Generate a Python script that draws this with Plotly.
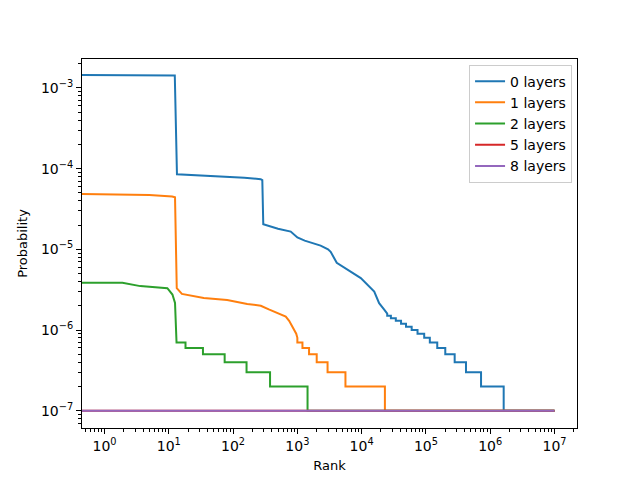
import plotly.graph_objects as go

# rank / probability breakpoints
rank_0 = [0.4, 5, 12.4, 13.4, 50, 150, 269, 285, 295, 500, 789, 1000, 1300, 2300, 3000, 3300, 4100, 6000, 9700,
          15700, 18700, 22300, 25000, 25000, 28500, 28500, 34000, 34000, 41000, 41000, 49000, 49000,
          60000, 60000, 74000, 74000, 94000, 94000, 115000, 115000, 150000, 150000, 200000, 200000,
          280000, 280000, 420000, 420000, 720000, 720000, 1620000, 1620000, 1e7]
prob_0 = [1.45e-3, 1.44e-3, 1.42e-3, 8.5e-5, 8.1e-5, 7.7e-5, 7.4e-5, 7.2e-5, 2.05e-5, 1.8e-5, 1.66e-5, 1.4e-5,
          1.28e-5, 1.11e-5, 1.0e-5, 9.3e-6, 6.8e-6, 5.6e-6, 4.4e-6,
          3.0e-6, 2.15e-6, 1.8e-6, 1.6e-6, 1.5e-6, 1.5e-6, 1.4e-6, 1.4e-6, 1.3e-6, 1.3e-6, 1.2e-6, 1.2e-6,
          1.1e-6, 1.1e-6, 1.0e-6, 1.0e-6, 9e-7, 9e-7, 8e-7, 8e-7, 7e-7, 7e-7, 6e-7, 6e-7,
          5e-7, 5e-7, 4e-7, 4e-7, 3e-7, 3e-7, 2e-7, 2e-7, 1e-7, 1e-7]

rank_1 = [0.4, 2, 5, 11.3, 12.5, 13.3, 16, 35, 81, 166, 270, 360, 520, 660, 745, 835, 900, 960, 1000,
          1000, 1200, 1200, 1520, 1520, 2000, 2000, 2950, 2950, 5600, 5600, 23000, 23000, 1e7]
prob_1 = [4.86e-5, 4.8e-5, 4.7e-5, 4.5e-5, 4.4e-5, 3.3e-6, 2.8e-6, 2.5e-6, 2.35e-6, 2.1e-6, 2.0e-6, 1.8e-6,
          1.6e-6, 1.47e-6, 1.3e-6, 1.1e-6, 1.0e-6, 9e-7, 8e-7,
          7e-7, 7e-7, 6e-7, 6e-7, 5e-7, 5e-7, 4e-7, 4e-7, 3e-7, 3e-7, 2e-7, 2e-7, 1e-7, 1e-7]

rank_2 = [0.4, 1.9, 3.6, 6.6, 9.5, 11.4, 12.5, 13.2, 18.2, 18.2, 34, 34, 74, 74, 162, 162, 376, 376,
          1440, 1440, 1e7]
prob_2 = [3.86e-6, 3.86e-6, 3.5e-6, 3.4e-6, 3.3e-6, 2.75e-6, 2.16e-6, 7e-7, 7e-7, 6e-7, 6e-7, 5e-7, 5e-7,
          4e-7, 4e-7, 3e-7, 3e-7, 2e-7, 2e-7, 1e-7, 1e-7]

rank_5 = [0.4, 1e7]
prob_5 = [1e-7, 1e-7]
rank_8 = [0.4, 1e7]
prob_8 = [1e-7, 1e-7]

x_ticks = [1, 10, 100, 1e3, 1e4, 1e5, 1e6, 1e7]
x_labels = ["10<sup>%d</sup>" % i for i in range(8)]
y_ticks = [1e-7, 1e-6, 1e-5, 1e-4, 1e-3]
y_labels = ["10<sup>\u2212%d</sup>" % i for i in range(7, 2, -1)]

series = [
    ("0 layers", rank_0, prob_0, "#1f77b4"),
    ("1 layers", rank_1, prob_1, "#ff7f0e"),
    ("2 layers", rank_2, prob_2, "#2ca02c"),
    ("5 layers", rank_5, prob_5, "#d62728"),
    ("8 layers", rank_8, prob_8, "#9467bd"),
]

fig = go.Figure()
for name, xs, ys, col in series:
    fig.add_trace(go.Scatter(x=xs, y=ys, mode="lines", name=name,
                             line=dict(color=col, width=2)))

axis_style = dict(type="log", showgrid=False, zeroline=False, showline=True, linecolor="black",
                  linewidth=1, mirror=True, ticks="outside", ticklen=5, tickcolor="black",
                  automargin=False, tickfont=dict(size=14, color="black"),
                  minor=dict(ticks="outside", ticklen=3, tickcolor="black", dtick="D1", showgrid=False))

fig.update_xaxes(axis_style, range=[-0.35, 7.35], tickvals=x_ticks, ticktext=x_labels,
                 title=dict(text="Rank", font=dict(size=13, color="black"), standoff=8))
fig.update_yaxes(axis_style, range=[-7.214, -2.642], tickvals=y_ticks, ticktext=y_labels,
                 title=dict(text="Probability", font=dict(size=13, color="black"), standoff=10))

# page body adds ~7px offset, so margins are shifted to compensate
fig.update_layout(
    width=640, height=480,
    margin=dict(l=74, r=71, t=51, b=60),
    paper_bgcolor="white", plot_bgcolor="white",
    font=dict(family="DejaVu Sans", size=13, color="black"),
    legend=dict(x=0.99, y=0.985, xanchor="right", yanchor="top",
                bordercolor="#cccccc", borderwidth=1, bgcolor="rgba(255,255,255,0.8)",
                font=dict(size=14), tracegroupgap=0),
)

fig.write_html("out.html")
